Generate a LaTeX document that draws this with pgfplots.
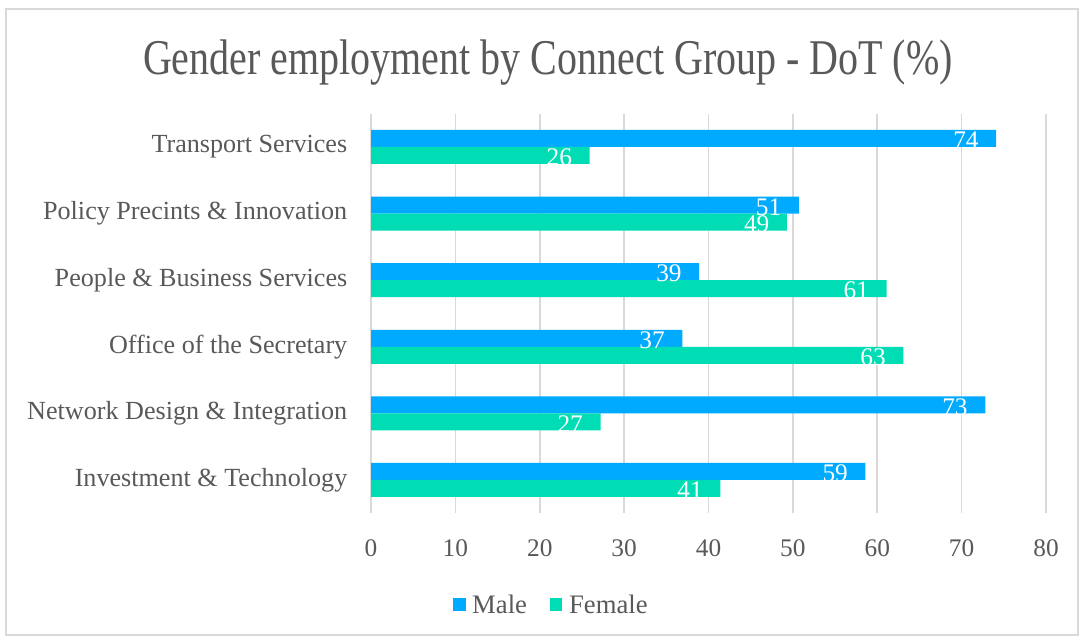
\documentclass[border=0pt]{standalone}
\usepackage{pgfplots}
\pgfplotsset{compat=1.18}
\usepackage{fontspec}
\setmainfont{Liberation Serif}
\definecolor{male}{HTML}{00AAFF}
\definecolor{female}{HTML}{00DDB5}
\definecolor{txt}{HTML}{595959}
\definecolor{gridc}{HTML}{D9D9D9}
\pgfplotstableread{
y male female
0 58.6 41.4
1 72.8 27.2
2 36.9 63.1
3 38.9 61.1
4 50.7 49.3
5 74.1 25.9
}\datatable
\begin{document}
\begin{tikzpicture}
\path[use as bounding box, fill=white] (0,0) rectangle (813pt,479.25pt);
\draw[gridc, line width=1.2pt] (4.5pt,3pt) rectangle (808.5pt,472.5pt);
\node[text=txt, font=\fontsize{30}{36}\selectfont] at (411pt,432pt) {\scalebox{1}[1.25]{Gender employment by Connect Group - DoT (\%)}};
\begin{axis}[
 at={(278.25pt,94.3pt)}, anchor=south west,
 scale only axis, width=506.25pt, height=299.7pt,
 xbar, bar width=12.75pt,
 xmin=0, xmax=80, ymin=-0.5, ymax=5.5,
 xtick={0,10,...,80}, ytick={0,...,5},
 yticklabels={Investment \& Technology, Network Design \& Integration, Office of the Secretary, People \& Business Services, Policy Precints \& Innovation, Transport Services},
 xmajorgrids, major grid style={gridc, line width=1.2pt},
 axis line style={draw=none}, tick style={draw=none},
 /pgf/number format/assume math mode=true,
 xticklabel style={text=txt, font=\fontsize{19}{22}\selectfont, yshift=-16pt},
 yticklabel style={text=txt, font=\fontsize{19.6}{24}\selectfont, xshift=-10pt},
 nodes near coords, point meta=x,
 every node near coord/.append style={anchor=east, inner sep=0pt, xshift=-13pt, yshift=-1.5pt, text=white, font=\fontsize{19}{22}\selectfont, /pgf/number format/fixed, /pgf/number format/precision=0},
 legend style={draw=none, fill=none, at={(0.2704,-0.229)}, anchor=center, legend columns=2, font=\fontsize{20}{24}\selectfont, text=txt, nodes={inner xsep=5pt}, /tikz/every even column/.append style={column sep=12pt}},
 legend image code/.code={\fill[#1] (0pt,-4.8pt) rectangle (9.6pt,4.8pt);},
]
\addplot[fill=male, draw=none, bar shift=6.375pt] table[x=male, y=y] {\datatable};
\addlegendentry{Male}
\addplot[fill=female, draw=none, bar shift=-6.375pt] table[x=female, y=y] {\datatable};
\addlegendentry{Female}
\end{axis}
\end{tikzpicture}
\end{document}
